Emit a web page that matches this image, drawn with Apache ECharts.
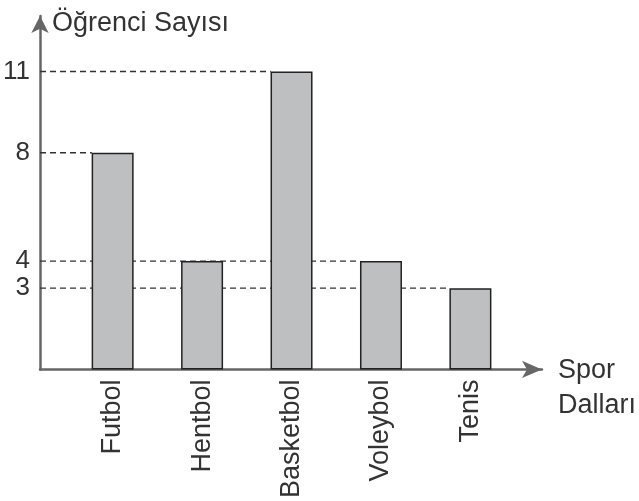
<!DOCTYPE html>
<html>
<head>
<meta charset="utf-8">
<script src="https://cdn.jsdelivr.net/npm/echarts@6/dist/echarts.min.js"></script>
<style>
  html, body { margin: 0; padding: 0; background: #ffffff; }
  #chart { width: 639px; height: 501px; }
</style>
</head>
<body>
<div id="chart"></div>
<script>
// ---- data ----
var categories = ['Futbol', 'Hentbol', 'Basketbol', 'Voleybol', 'Tenis'];
var values = [8, 4, 11, 4, 3];
var yTickLabels = [3, 4, 8, 11];
var yAxisTitle = 'Öğrenci Sayısı';
var xAxisTitleLines = ['Spor', 'Dalları'];

// ---- layout / scale settings ----
var GRID = { left: 40, right: 92, top: 16, bottom: 129 };
var XMIN = -0.812, XMAX = 4.80;
var YMIN = 0, YMAX = 13.05;
var BAR_W = 42;
var FONT = '"Liberation Sans", Arial, Helvetica, sans-serif';

var gridWidth = 639 - GRID.left - GRID.right;
var pxPerUnit = gridWidth / (XMAX - XMIN);
var halfBar = BAR_W / 2 / pxPerUnit;

var barData = categories.map(function (c, i) { return [i, values[i]]; });

// dashed guide lines: from the y axis to the left edge of the rightmost bar holding that value
var guideSeries = [];
var seen = {};
for (var i = values.length - 1; i >= 0; i--) {
  var v = values[i];
  if (seen[v]) continue;
  seen[v] = true;
  guideSeries.push({
    type: 'line',
    data: [[XMIN, v], [i - halfBar, v]],
    symbol: 'none',
    silent: true,
    z: 1,
    lineStyle: { color: '#333', width: 1.3, type: [6, 4] },
    animation: false
  });
}

var chart = echarts.init(document.getElementById('chart'));
chart.setOption({
  backgroundColor: '#ffffff',
  animation: false,
  grid: GRID,
  xAxis: {
    type: 'value',
    min: XMIN,
    max: XMAX,
    name: '{a|' + xAxisTitleLines[0] + '}\n{b|' + xAxisTitleLines[1] + '}',
    nameLocation: 'end',
    nameGap: 16,
    nameTextStyle: {
      fontFamily: FONT, fontSize: 27, color: '#333',
      align: 'left', verticalAlign: 'top',
      rich: {
        a: { fontFamily: FONT, fontSize: 27, color: '#333', lineHeight: 2 },
        b: { fontFamily: FONT, fontSize: 27, color: '#333', lineHeight: 68 }
      }
    },
    axisLine: {
      show: true,
      onZero: false,
      symbol: ['none', 'arrow'],
      symbolSize: [13, 20],
      lineStyle: { color: '#666', width: 2.5 }
    },
    axisTick: { show: false },
    splitLine: { show: false },
    axisLabel: {
      customValues: [0, 1, 2, 3, 4],
      formatter: function (val) { return categories[Math.round(val)]; },
      rotate: 90,
      margin: 10,
      fontFamily: FONT,
      fontSize: 27,
      color: '#333'
    }
  },
  yAxis: {
    type: 'value',
    min: YMIN,
    max: YMAX,
    name: yAxisTitle,
    nameLocation: 'end',
    nameGap: -8,
    nameTextStyle: {
      fontFamily: FONT, fontSize: 27, color: '#333',
      align: 'left', verticalAlign: 'middle',
      padding: [0, 0, 0, 12]
    },
    axisLine: {
      show: true,
      onZero: false,
      symbol: ['none', 'arrow'],
      symbolSize: [13, 17],
      lineStyle: { color: '#666', width: 2.5 }
    },
    axisTick: { show: false },
    splitLine: { show: false },
    axisLabel: {
      customValues: yTickLabels,
      margin: 10,
      fontFamily: FONT,
      fontSize: 26,
      color: '#333'
    }
  },
  series: guideSeries.concat([{
    type: 'bar',
    data: barData,
    barWidth: BAR_W,
    z: 3,
    itemStyle: { color: '#bebfc1', borderColor: '#222', borderWidth: 1.5 }
  }])
});
</script>
</body>
</html>
